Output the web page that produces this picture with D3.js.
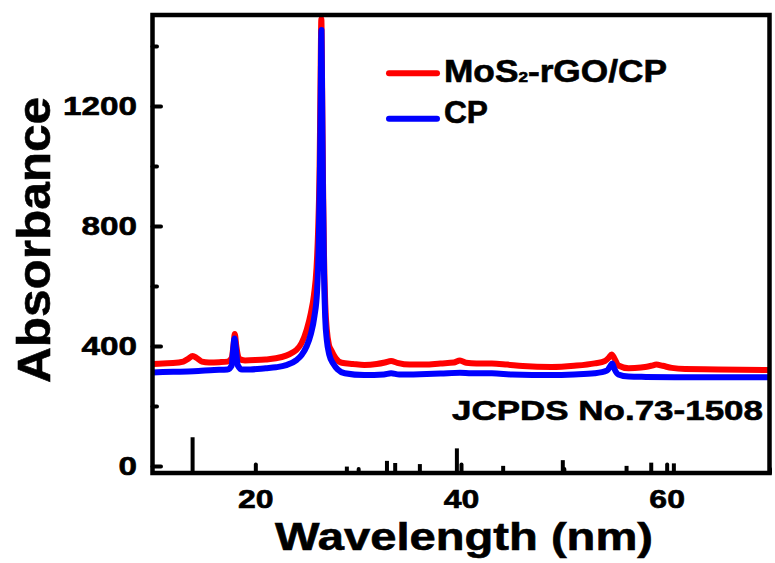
<!DOCTYPE html>
<html><head><meta charset="utf-8">
<script src="https://cdn.jsdelivr.net/npm/d3@7"></script>
<style>
html,body{margin:0;padding:0;background:#fff;}
text{font-family:"Liberation Sans",Arial,sans-serif;font-weight:bold;fill:#000;stroke:#000;stroke-width:0.6px;}
</style></head>
<body>
<svg id="chart" width="775" height="563"></svg>
<script>
// ---- data ----
const redX = [10,11,12,13,13.5,13.9,14.3,14.8,15.5,16.5,17.3,17.7,17.9,18.0,18.15,18.4,19,20,21,22,23,23.6,24,24.5,25,25.4,25.7,25.95,26.1,26.25,26.33,26.42,26.5,26.58,26.68,26.8,26.95,27.15,27.4,27.8,28.4,29.5,30.6,31.8,32.6,33.2,33.8,35,36.5,38,39.3,39.9,40.5,41.5,43,44.5,46,48.8,51,53,54,54.4,54.65,54.9,55.3,56.3,57.5,58.5,59,59.6,60.5,61.8,65,70];
const redY = [340,342,343,348,358,367,360,348,345,346,348,360,410,440,400,358,352,353,355,359,368,378,387,410,455,510,570,660,780,1000,1250,1490,1250,950,700,540,455,405,385,360,344,340,337,340,345,350,344,338,338,342,345,352,344,342,342,338,333,330,334,342,350,362,372,360,335,326,328,334,338,334,327,323,322,320];
const blueX = [10,12,14,16,17.3,17.7,17.85,17.97,18.1,18.3,18.7,19.5,21,22,23,24,24.5,25,25.4,25.75,26,26.15,26.27,26.35,26.43,26.5,26.58,26.68,26.8,26.95,27.2,27.6,28,28.7,30.6,32.5,33.2,34,36,38,39.9,41,43,45,48.8,51,53,54.2,54.55,54.7,54.9,55.3,56.3,58,61.8,66,70];
const blueY = [312,314,316,320,322,335,390,425,395,335,322,322,326,329,336,353,370,400,440,500,580,720,950,1200,1453,1200,900,640,490,420,370,340,322,309,303,305,309,305,306,308,311,309,309,305,303,305,309,318,335,342,325,305,298,297,296,296,296];
const refPos = [13.9,28.9,32.8,33.6,36.0,39.6,44.1,49.9,56.1,58.5,60.7];
const refInt = [100,18,34,28,25,69,20,36,20,29,27];
const seriesNames = ["MoS2-rGO/CP","CP"];
const seriesColors = ["#ff0000","#0000ff"];
const xMajor = [20,40,60];
const xMinor = [30,50,70];
const yMajor = [0,400,800,1200];
const yMinor = [200,600,1000,1400];

// ---- scales ----
const svg = d3.select("#chart");
const x = d3.scaleLinear().domain([10,70]).range([152.5,769.5]);
const y = d3.scaleLinear().domain([-23.3,1503.3]).range([473,15]);
const refH = d3.scaleLinear().domain([0,100]).range([0,35.7]);

svg.append("clipPath").attr("id","clip").append("rect")
  .attr("x",x(10)).attr("y",y(1503.3)).attr("width",x(70)-x(10)).attr("height",y(-23.3)-y(1503.3));

const line = d3.line().x(d=>x(d[0])).y(d=>y(d[1])).curve(d3.curveMonotoneX);
const redData = redX.map((v,i)=>[v,redY[i]]);
const blueData = blueX.map((v,i)=>[v,blueY[i]]);

const plot = svg.append("g").attr("clip-path","url(#clip)");
plot.append("path").datum(redData).attr("d",line).attr("fill","none")
  .attr("stroke",seriesColors[0]).attr("stroke-width",6).attr("stroke-linejoin","round");
plot.append("path").datum(blueData).attr("d",line).attr("fill","none")
  .attr("stroke",seriesColors[1]).attr("stroke-width",6).attr("stroke-linejoin","round");

// reference bars
plot.selectAll("line.ref").data(refPos).enter().append("line")
  .attr("x1",d=>x(d)).attr("x2",d=>x(d))
  .attr("y1",y(-23.3)).attr("y2",(d,i)=>y(-23.3)-refH(refInt[i]))
  .attr("stroke","#000").attr("stroke-width",4);

// axes
function styleAxis(g){ g.select(".domain").remove(); g.selectAll("line").attr("stroke","#000").attr("stroke-width",4).attr("stroke-linecap","round"); }
const gx = svg.append("g").attr("transform",`translate(0,${y(-23.3)})`)
  .call(d3.axisBottom(x).tickValues(xMajor).tickSizeInner(-8.5).tickSizeOuter(0).tickPadding(16.5).tickFormat(d3.format("d")));
styleAxis(gx);
gx.selectAll("text").attr("font-size",26).attr("font-family",null).attr("textLength",function(d){return String(d).length*17.8;}).attr("lengthAdjust","spacingAndGlyphs");
const gxm = svg.append("g").attr("transform",`translate(0,${y(-23.3)})`)
  .call(d3.axisBottom(x).tickValues(xMinor).tickSizeInner(-4).tickSizeOuter(0).tickFormat(""));
styleAxis(gxm);

const gy = svg.append("g").attr("transform",`translate(${x(10)},0)`)
  .call(d3.axisLeft(y).tickValues(yMajor).tickSizeInner(-8.5).tickSizeOuter(0).tickPadding(15.5).tickFormat(d3.format("d")));
styleAxis(gy);
gy.selectAll("text").attr("font-size",26).attr("font-family",null).attr("textLength",function(d){return String(d).length*18.5;}).attr("lengthAdjust","spacingAndGlyphs");
const gym = svg.append("g").attr("transform",`translate(${x(10)},0)`)
  .call(d3.axisLeft(y).tickValues(yMinor).tickSizeInner(-4.5).tickSizeOuter(0).tickFormat(""));
styleAxis(gym);

// frame
svg.append("rect").attr("x",x(10)).attr("y",y(1503.3)).attr("width",x(70)-x(10)).attr("height",y(-23.3)-y(1503.3))
  .attr("fill","none").attr("stroke","#000").attr("stroke-width",4.5);

// axis titles
svg.append("text").attr("x",464).attr("y",550).attr("text-anchor","middle")
  .attr("font-size",39).attr("textLength",378).attr("lengthAdjust","spacingAndGlyphs").text("Wavelength (nm)");
svg.append("text").attr("transform","translate(50,240) rotate(-90)").attr("text-anchor","middle")
  .attr("font-size",47).attr("textLength",286).attr("lengthAdjust","spacingAndGlyphs").text("Absorbance");

// legend
const legY = [73.3,118.8];
const legTextY = [81.7,123.3];
seriesNames.forEach((n,i)=>{
  svg.append("line").attr("x1",389).attr("x2",437).attr("y1",legY[i]).attr("y2",legY[i])
    .attr("stroke",seriesColors[i]).attr("stroke-width",6).attr("stroke-linecap","round");
});
const t1 = svg.append("text").attr("x",444).attr("y",legTextY[0]).attr("font-size",31)
  .attr("textLength",223).attr("lengthAdjust","spacingAndGlyphs");
t1.append("tspan").text("MoS");
t1.append("tspan").attr("font-size",15).text("2");
t1.append("tspan").text("-rGO/CP");
svg.append("text").attr("x",444).attr("y",legTextY[1]).attr("font-size",31)
  .attr("textLength",44).attr("lengthAdjust","spacingAndGlyphs").text(seriesNames[1]);

// reference label
svg.append("text").attr("x",452).attr("y",420).attr("font-size",28)
  .attr("textLength",311).attr("lengthAdjust","spacingAndGlyphs").text("JCPDS No.73-1508");
</script>
</body></html>
